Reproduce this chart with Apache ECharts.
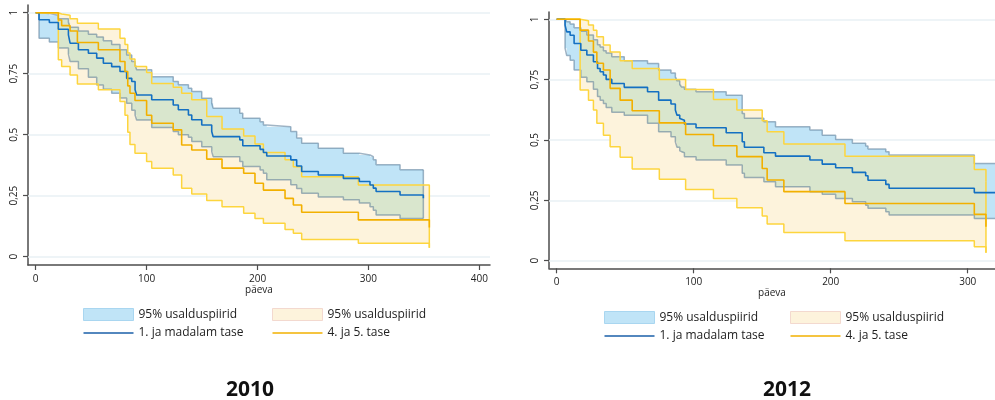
<!DOCTYPE html>
<html><head><meta charset="utf-8">
<script src="https://cdn.jsdelivr.net/npm/echarts@6/dist/echarts.min.js"></script>
<style>html,body{margin:0;padding:0;background:#fff}#c{width:995px;height:400px}</style>
</head><body><div id="c"></div>
<script>
// ---------- data ----------
const yTicks = [0, 0.25, 0.5, 0.75, 1];
const xTicks2010 = [0, 100, 200, 300, 400];
const xTicks2012 = [0, 100, 200, 300];
const axisName = 'päeva';
const bandLabel = '95% usalduspiirid';
const groupLabels = ['1. ja madalam tase', '4. ja 5. tase'];
const panelTitles = ['2010', '2012'];

// 2010, group A (1. ja madalam tase)
const t2010A = [0,3,12.3,20.4,29.5,31,38.5,47.5,55,61,68.5,76,82,86.6,89.6,91,104.6,124,128.6,137.7,140.7,149.7,158.7,160,184,186.7,202.3,205.3,208.3,230,235.3,239.8,254.8,277.4,291.8,301.4,304.4,306.9,328.5,349.5];
const s2010A = [1,0.971,0.96,0.932,0.909,0.875,0.848,0.834,0.814,0.793,0.779,0.759,0.731,0.718,0.684,0.663,0.643,0.622,0.602,0.581,0.561,0.540,0.513,0.492,0.479,0.455,0.440,0.427,0.413,0.397,0.372,0.349,0.335,0.321,0.308,0.294,0.281,0.267,0.253,0.24];
const lo2010A = [1,0.895,0.88,0.855,0.83,0.80,0.77,0.735,0.704,0.686,0.67,0.65,0.629,0.60,0.581,0.56,0.53,0.513,0.50,0.49,0.472,0.451,0.431,0.41,0.39,0.37,0.355,0.342,0.315,0.295,0.28,0.26,0.245,0.233,0.22,0.205,0.19,0.171,0.157,0.157];
const hi2010A = [1,0.997,0.99,0.975,0.96,0.94,0.925,0.912,0.90,0.885,0.87,0.848,0.827,0.80,0.786,0.766,0.738,0.718,0.705,0.69,0.677,0.649,0.629,0.608,0.588,0.567,0.553,0.54,0.533,0.513,0.486,0.465,0.445,0.424,0.417,0.41,0.397,0.377,0.356,0.356];

// 2010, group B (4. ja 5. tase)
const t2010B = [0,20.4,23.4,31,37.6,56.5,76,80.5,83,85,89.5,100,104.6,124,131.6,140.7,154.2,168,187.5,197.7,205.3,224.8,232.3,239.8,290.9,354.9];
const s2010B = [1,0.97,0.947,0.925,0.878,0.848,0.80,0.759,0.70,0.67,0.64,0.58,0.547,0.52,0.458,0.4375,0.40,0.363,0.342,0.301,0.273,0.239,0.212,0.182,0.151,0.12];
const lo2010B = [1,0.807,0.78,0.745,0.708,0.684,0.636,0.58,0.51,0.46,0.424,0.39,0.363,0.335,0.281,0.257,0.23,0.205,0.178,0.157,0.137,0.112,0.096,0.071,0.055,0.037];
const hi2010B = [1,0.995,0.99,0.975,0.957,0.933,0.895,0.87,0.835,0.81,0.78,0.755,0.71,0.695,0.67,0.643,0.575,0.523,0.495,0.462,0.427,0.397,0.369,0.328,0.294,0.253];

// 2012, group A
const t2012A = [0,6.1,7.3,9.8,12.7,17.6,22,26.8,29.8,31.7,34.1,36.1,40.2,49.3,66.3,74.4,83.4,86.6,87.8,89.8,91,93.2,101.7,123.7,135.4,137,151.2,159.7,184.8,193.8,203.6,215.8,225.5,227.2,240.2,242.6,304.8,330];
const s2012A = [1,0.976,0.948,0.934,0.90,0.872,0.852,0.824,0.796,0.783,0.769,0.751,0.734,0.718,0.70,0.665,0.649,0.624,0.603,0.589,0.582,0.566,0.551,0.53,0.493,0.47,0.447,0.433,0.417,0.40,0.385,0.366,0.352,0.333,0.316,0.30,0.282,0.282];
const lo2012A = [1,0.88,0.85,0.83,0.79,0.76,0.741,0.71,0.68,0.665,0.651,0.635,0.615,0.603,0.569,0.534,0.513,0.493,0.47,0.455,0.447,0.431,0.417,0.396,0.362,0.345,0.327,0.306,0.286,0.275,0.258,0.244,0.23,0.217,0.203,0.189,0.175,0.175];
const hi2012A = [1,0.997,0.99,0.98,0.965,0.95,0.935,0.915,0.895,0.885,0.87,0.86,0.845,0.828,0.817,0.79,0.778,0.76,0.745,0.73,0.72,0.71,0.70,0.685,0.61,0.59,0.576,0.555,0.541,0.52,0.502,0.486,0.475,0.463,0.451,0.438,0.403,0.403];

// 2012, group B
const t2012B = [0,17.1,23.2,26.8,29.3,34.1,39,46.3,55.1,74.9,94.1,114.4,131.5,150,153.6,165.8,210.4,304.8,313.3];
const s2012B = [1,0.955,0.91,0.864,0.818,0.79,0.714,0.665,0.621,0.571,0.523,0.476,0.431,0.382,0.334,0.286,0.237,0.192,0.141];
const lo2012B = [1,0.707,0.665,0.624,0.569,0.52,0.472,0.428,0.38,0.337,0.295,0.258,0.219,0.185,0.152,0.117,0.083,0.058,0.033];
const hi2012B = [1,0.994,0.976,0.955,0.928,0.893,0.865,0.828,0.796,0.751,0.709,0.668,0.624,0.58,0.534,0.483,0.433,0.378,0.327];

// ---------- styling ----------
const FONT = '"Open Sans", "DejaVu Sans", sans-serif';
const C = {
  blueFill: '#c0e4f7', yelFill: '#fdf3dc', mixFill: '#d9e6cd',
  blueEdge: 'rgba(85,120,150,0.55)', yelEdge: '#fdd53e',
  blueLine: '#1470c2', yelLine: '#f2b000',
  axis: '#4d4d4d', grid: '#e9f1f4', text: '#222'
};

const panels = [
  { year: panelTitles[0], tA: t2010A, sA: s2010A, loA: lo2010A, hiA: hi2010A,
    tB: t2010B, sB: s2010B, loB: lo2010B, hiB: hi2010B, xTicks: xTicks2010,
    grid: {left: 28, top: 5, width: 462, height: 260}, xr: [-6.94, 409.6], yr: [-0.034, 1.0316],
    legLeft: [83, 272], legTop: 308, titleX: 250 },
  { year: panelTitles[1], tA: t2012A, sA: s2012A, loA: lo2012A, hiA: hi2012A,
    tB: t2012B, sB: s2012B, loB: lo2012B, hiB: hi2012B, xTicks: xTicks2012,
    grid: {left: 549, top: 12, width: 446, height: 256.3}, xr: [-5.62, 319.9], yr: [-0.0315, 1.0302],
    legLeft: [604, 790], legTop: 311, titleX: 787 }
];

// ---------- helpers ----------
function pairs(t, v) { return t.map((x, i) => [x, v[i]]); }
function stepAt(t, v, x) { let val = v[0]; for (let i = 0; i < t.length; i++) { if (t[i] <= x) val = v[i]; else break; } return val; }
function overlap(tA, loA, hiA, tB, loB, hiB) {
  const end = Math.min(tA[tA.length - 1], tB[tB.length - 1]);
  const g = Array.from(new Set(tA.concat(tB))).filter(x => x <= end).sort((a, b) => a - b);
  const lo = [], hi = [];
  g.forEach(x => {
    const l = Math.max(stepAt(tA, loA, x), stepAt(tB, loB, x));
    const h = Math.min(stepAt(tA, hiA, x), stepAt(tB, hiB, x));
    lo.push(l); hi.push(Math.max(l, h));
  });
  return {t: g, lo, hi};
}
// step-shaped outline of a band, in data units
function bandOutline(t, lo, hi) {
  const p = [], n = t.length;
  for (let i = 0; i < n; i++) { p.push([t[i], hi[i]]); if (i < n - 1) p.push([t[i + 1], hi[i]]); }
  for (let i = n - 1; i >= 0; i--) { if (i < n - 1) p.push([t[i + 1], lo[i]]); p.push([t[i], lo[i]]); }
  return p;
}
function bandFill(name, t, lo, hi, color, xi, z) {
  const outline = bandOutline(t, lo, hi);
  return {type: 'custom', name, xAxisIndex: xi, yAxisIndex: xi, silent: true, z, clip: true,
    color, itemStyle: {color}, data: [[t[0], lo[0]]],
    renderItem: (params, api) => {
      const cs = params.coordSys;
      return {type: 'polygon', shape: {points: outline.map(q => api.coord(q))}, style: {fill: color},
        clipPath: {type: 'rect', shape: {x: cs.x, y: cs.y, width: cs.width, height: cs.height}}};
    }};
}
function edge(name, t, v, color, width, xi, z, extra) {
  return Object.assign({type: 'line', name, xAxisIndex: xi, yAxisIndex: xi, step: 'end', symbol: 'none', showSymbol: false,
    silent: true, z, color, itemStyle: {color}, lineStyle: {color, width}, data: pairs(t, v)}, extra || {});
}
function endEdge(t, lo, hi, color, width, xi, z) {
  const n = t.length - 1;
  return {type: 'line', xAxisIndex: xi, yAxisIndex: xi, symbol: 'none', silent: true, z,
    lineStyle: {color, width}, data: [[t[n], lo[n]], [t[n], hi[n]]]};
}
const fmtNum = v => String(v).replace('.', ',');
const LINE_ICON = 'path://M0,0H50V1.3H0Z';

// ---------- build option ----------
const grids = [], xAxes = [], yAxes = [], series = [], legends = [], graphics = [];
const nameMap = {};
panels.forEach((p, i) => {
  grids.push(p.grid);
  xAxes.push({type: 'value', gridIndex: i, min: p.xr[0], max: p.xr[1], name: axisName, nameLocation: 'middle', nameGap: 20,
    nameMoveOverlap: false,
    nameTextStyle: {fontFamily: FONT, fontSize: 10, color: C.text},
    axisLine: {show: true, onZero: false, lineStyle: {color: C.axis, width: 1.5}},
    axisTick: {show: true, customValues: p.xTicks, length: 5, lineStyle: {color: C.axis, width: 1.2}},
    axisLabel: {customValues: p.xTicks, fontFamily: FONT, fontSize: 10, color: C.text, margin: 9},
    splitLine: {show: false}});
  yAxes.push({type: 'value', gridIndex: i, min: p.yr[0], max: p.yr[1],
    axisLine: {show: true, onZero: false, lineStyle: {color: C.axis, width: 1.5}},
    axisTick: {show: true, customValues: yTicks, length: 5, lineStyle: {color: C.axis, width: 1.2}},
    axisLabel: {customValues: yTicks, formatter: fmtNum, rotate: 90, fontFamily: FONT, fontSize: 10, color: C.text, margin: 9},
    splitLine: {show: false}});

  const ciA = 'ciA' + p.year, ciB = 'ciB' + p.year, estA = 'estA' + p.year, estB = 'estB' + p.year;
  nameMap[ciA] = bandLabel; nameMap[ciB] = bandLabel; nameMap[estA] = groupLabels[0]; nameMap[estB] = groupLabels[1];
  const ov = overlap(p.tA, p.loA, p.hiA, p.tB, p.loB, p.hiB);

  series.push(edge('grid' + p.year, [p.xr[0]], [yTicks[0]], 'rgba(0,0,0,0)', 0, i, 1, {
    markLine: {silent: true, symbol: 'none', z: 1, animation: false, label: {show: false},
      lineStyle: {color: C.grid, width: 1.5, type: 'solid'}, data: yTicks.map(v => ({yAxis: v}))}
  }));
  series.push(bandFill(ciA, p.tA, p.loA, p.hiA, C.blueFill, i, 2));
  series.push(bandFill(ciB, p.tB, p.loB, p.hiB, C.yelFill, i, 2));
  series.push(bandFill('mix' + p.year, ov.t, ov.lo, ov.hi, C.mixFill, i, 2));

  series.push(edge('hiA' + p.year, p.tA, p.hiA, C.blueEdge, 1.5, i, 3));
  series.push(edge('loA' + p.year, p.tA, p.loA, C.blueEdge, 1.5, i, 3));
  series.push(endEdge(p.tA, p.loA, p.hiA, C.blueEdge, 1.5, i, 3));
  series.push(edge('hiB' + p.year, p.tB, p.hiB, C.yelEdge, 1.5, i, 3));
  series.push(edge('loB' + p.year, p.tB, p.loB, C.yelEdge, 1.5, i, 3));
  series.push(endEdge(p.tB, p.loB, p.hiB, C.yelEdge, 1.5, i, 3));

  series.push(edge(estA, p.tA, p.sA, C.blueLine, 1.6, i, 5));
  series.push(edge(estB, p.tB, p.sB, C.yelLine, 1.6, i, 5));

  const legBase = {orient: 'vertical', top: p.legTop, padding: 0, itemWidth: 50, itemHeight: 12, itemGap: 6,
    selectedMode: false, formatter: n => nameMap[n], symbolKeepAspect: true,
    textStyle: {fontFamily: FONT, fontSize: 12, color: C.text}};
  legends.push(Object.assign({}, legBase, {left: p.legLeft[0], data: [
    {name: ciA, icon: 'rect', itemStyle: {color: C.blueFill, borderColor: '#a9d6f0', borderWidth: 1}},
    {name: estA, icon: LINE_ICON, itemStyle: {color: '#1a5fa8', borderWidth: 0}}]}));
  legends.push(Object.assign({}, legBase, {left: p.legLeft[1], data: [
    {name: ciB, icon: 'rect', itemStyle: {color: C.yelFill, borderColor: '#f3d9cf', borderWidth: 1}},
    {name: estB, icon: LINE_ICON, itemStyle: {color: C.yelLine, borderWidth: 0}}]}));

  graphics.push({type: 'text', x: p.titleX, y: 390, silent: true,
    style: {text: p.year, font: 'bold 21px ' + FONT, fill: '#111', align: 'center', verticalAlign: 'middle'}});
});

const chart = echarts.init(document.getElementById('c'));
chart.setOption({
  animation: false,
  backgroundColor: '#fff',
  grid: grids, xAxis: xAxes, yAxis: yAxes, series, legend: legends, graphic: graphics
});
</script>
</body></html>
